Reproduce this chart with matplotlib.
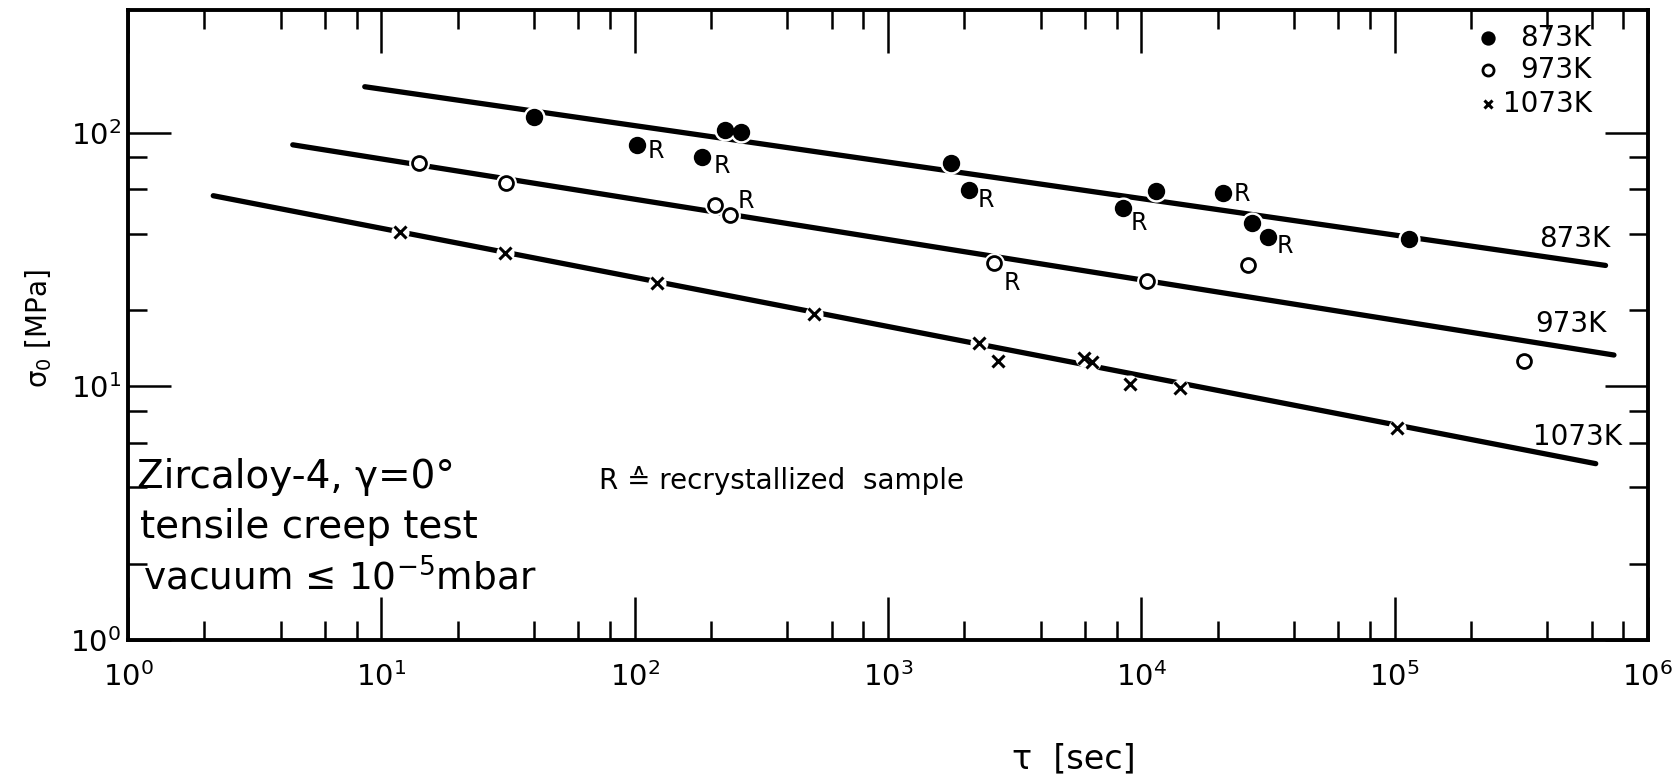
import matplotlib
matplotlib.use("Agg")
import matplotlib.pyplot as plt
from matplotlib.ticker import LogLocator, FixedLocator, NullFormatter

plt.rcParams['font.family'] = ['DejaVu Sans']

# creep rupture data: tau [sec] / sigma0 [MPa]
# rx = 1 -> recrystallized sample (marked "R")
t_873 = [40, 102, 184, 227, 262, 1770, 2083, 8450, 11400, 21100, 27400, 31700, 113500]
s_873 = [115.6, 89.7, 80.5, 103, 101, 76.2, 59.7, 50.7, 59.2, 58.1, 44.3, 38.7, 38.3]
rx_873 = [0, 1, 1, 0, 0, 0, 1, 1, 0, 1, 0, 1, 0]

t_973 = [14.1, 31.0, 207, 237, 2611, 10500, 26300, 324000]
s_973 = [76.2, 63.6, 52.1, 47.6, 30.8, 26.0, 30.0, 12.6]
rx_973 = [0, 0, 0, 1, 1, 0, 0, 0]

t_1073 = [11.9, 30.7, 122, 512, 2277, 2730, 5950, 6390, 9020, 14200, 102000]
s_1073 = [40.8, 33.7, 25.5, 19.3, 14.8, 12.6, 12.9, 12.5, 10.2, 9.87, 6.87]
rx_1073 = [0] * len(t_1073)

# fitted lines, end points
fit_t_873, fit_s_873 = [8.6, 6.8e5], [152, 30.0]
fit_t_973, fit_s_973 = [4.47, 7.34e5], [89.7, 13.3]
fit_t_1073, fit_s_1073 = [2.17, 6.22e5], [56.5, 4.96]

# where the "R" sits next to each recrystallized point (offset in points)
r_off = {
    "873K": [(7.4, -4.1), (8.9, -6.5), (6.7, -7.2), (6, -10.8), (7, -1.2), (6, -6)],
    "973K": [(5.5, 9.6), (7.2, -14.9)],
    "1073K": [],
}
# label at the right end of each line
lab_pos = {"873K": (7.12e5, 38.0), "973K": (6.87e5, 17.6), "1073K": (7.87e5, 6.33)}

fig = plt.figure(figsize=(16.78, 7.83), dpi=100)
ax = fig.add_axes([0.0763, 0.1826, 0.9058, 0.8046])

series = [
    ("873K", t_873, s_873, rx_873, fit_t_873, fit_s_873,
     dict(marker='o', ms=11, mfc='black', mec='black', mew=1.5), 16),
    ("973K", t_973, s_973, rx_973, fit_t_973, fit_s_973,
     dict(marker='o', ms=10, mfc='white', mec='black', mew=2.0), 15),
    ("1073K", t_1073, s_1073, rx_1073, fit_t_1073, fit_s_1073,
     dict(marker='x', ms=8, mec='black', mew=2.2), 13),
]

for name, t, s, rx, ft, fs, mstyle, halo in series:
    ax.plot(ft, fs, color='black', lw=3.8, solid_capstyle='round', zorder=2)
    # white halo breaks the line around every point, like the drawing
    ax.plot(t, s, 'o', ms=halo, color='white', mec='none', zorder=3)
    ax.plot(t, s, ls='none', zorder=4, **mstyle)
    k = 0
    for ti, si, ri in zip(t, s, rx):
        if ri:
            ax.annotate("R", (ti, si), xytext=r_off[name][k], textcoords='offset points',
                        ha='left', va='center', fontsize=17)
            k += 1
    lx, ly = lab_pos[name]
    ax.text(lx, ly, name, ha='right', va='center', fontsize=20)

# legend drawn by hand in the upper right corner
leg_y = [0.956, 0.905, 0.851]
for (name, t, s, rx, ft, fs, mstyle, halo), yy in zip(series, leg_y):
    st = dict(mstyle)
    st['ms'] = st['ms'] * 0.8
    ax.plot([0.895], [yy], transform=ax.transAxes, ls='none', clip_on=False, **st)
    ax.text(0.963, yy, name, transform=ax.transAxes, ha='right', va='center', fontsize=20)

ax.text(0.006, 0.259, "Zircaloy-4, γ=0°", transform=ax.transAxes,
        ha='left', va='center', fontsize=28)
ax.text(0.008, 0.179, "tensile creep test", transform=ax.transAxes,
        ha='left', va='center', fontsize=28)
ax.text(0.010, 0.100, "vacuum ≤ 10$^{-5}$mbar", transform=ax.transAxes,
        ha='left', va='center', fontsize=27)
ax.text(0.310, 0.254, "R ≙ recrystallized  sample", transform=ax.transAxes,
        ha='left', va='center', fontsize=20)

ax.set_xscale('log')
ax.set_yscale('log')
ax.set_xlim(1, 1e6)
ax.set_ylim(1, 305)

ax.xaxis.set_major_locator(FixedLocator([1e0, 1e1, 1e2, 1e3, 1e4, 1e5, 1e6]))
ax.xaxis.set_minor_locator(LogLocator(base=10, subs=[2, 4, 6, 8], numticks=20))
ax.yaxis.set_major_locator(FixedLocator([1e0, 1e1, 1e2]))
ax.yaxis.set_minor_locator(FixedLocator([2, 4, 6, 8, 20, 40, 60, 80]))
ax.xaxis.set_minor_formatter(NullFormatter())
ax.yaxis.set_minor_formatter(NullFormatter())

ax.tick_params(which='both', direction='in', top=True, right=True, width=1.8)
ax.tick_params(which='major', length=31, labelsize=21)
ax.tick_params(which='minor', length=14)
ax.tick_params(axis='x', which='major', pad=16)
ax.tick_params(axis='y', which='major', pad=5)

for sp in ax.spines.values():
    sp.set_linewidth(2.8)

ax.set_xlabel("τ  [sec]", fontsize=24)
ax.xaxis.set_label_coords(0.622, -0.163)
ax.set_ylabel("σ$_0$ [MPa]", fontsize=20)
ax.yaxis.set_label_coords(-0.049, 0.494)

fig.savefig("out.png", dpi=100)
